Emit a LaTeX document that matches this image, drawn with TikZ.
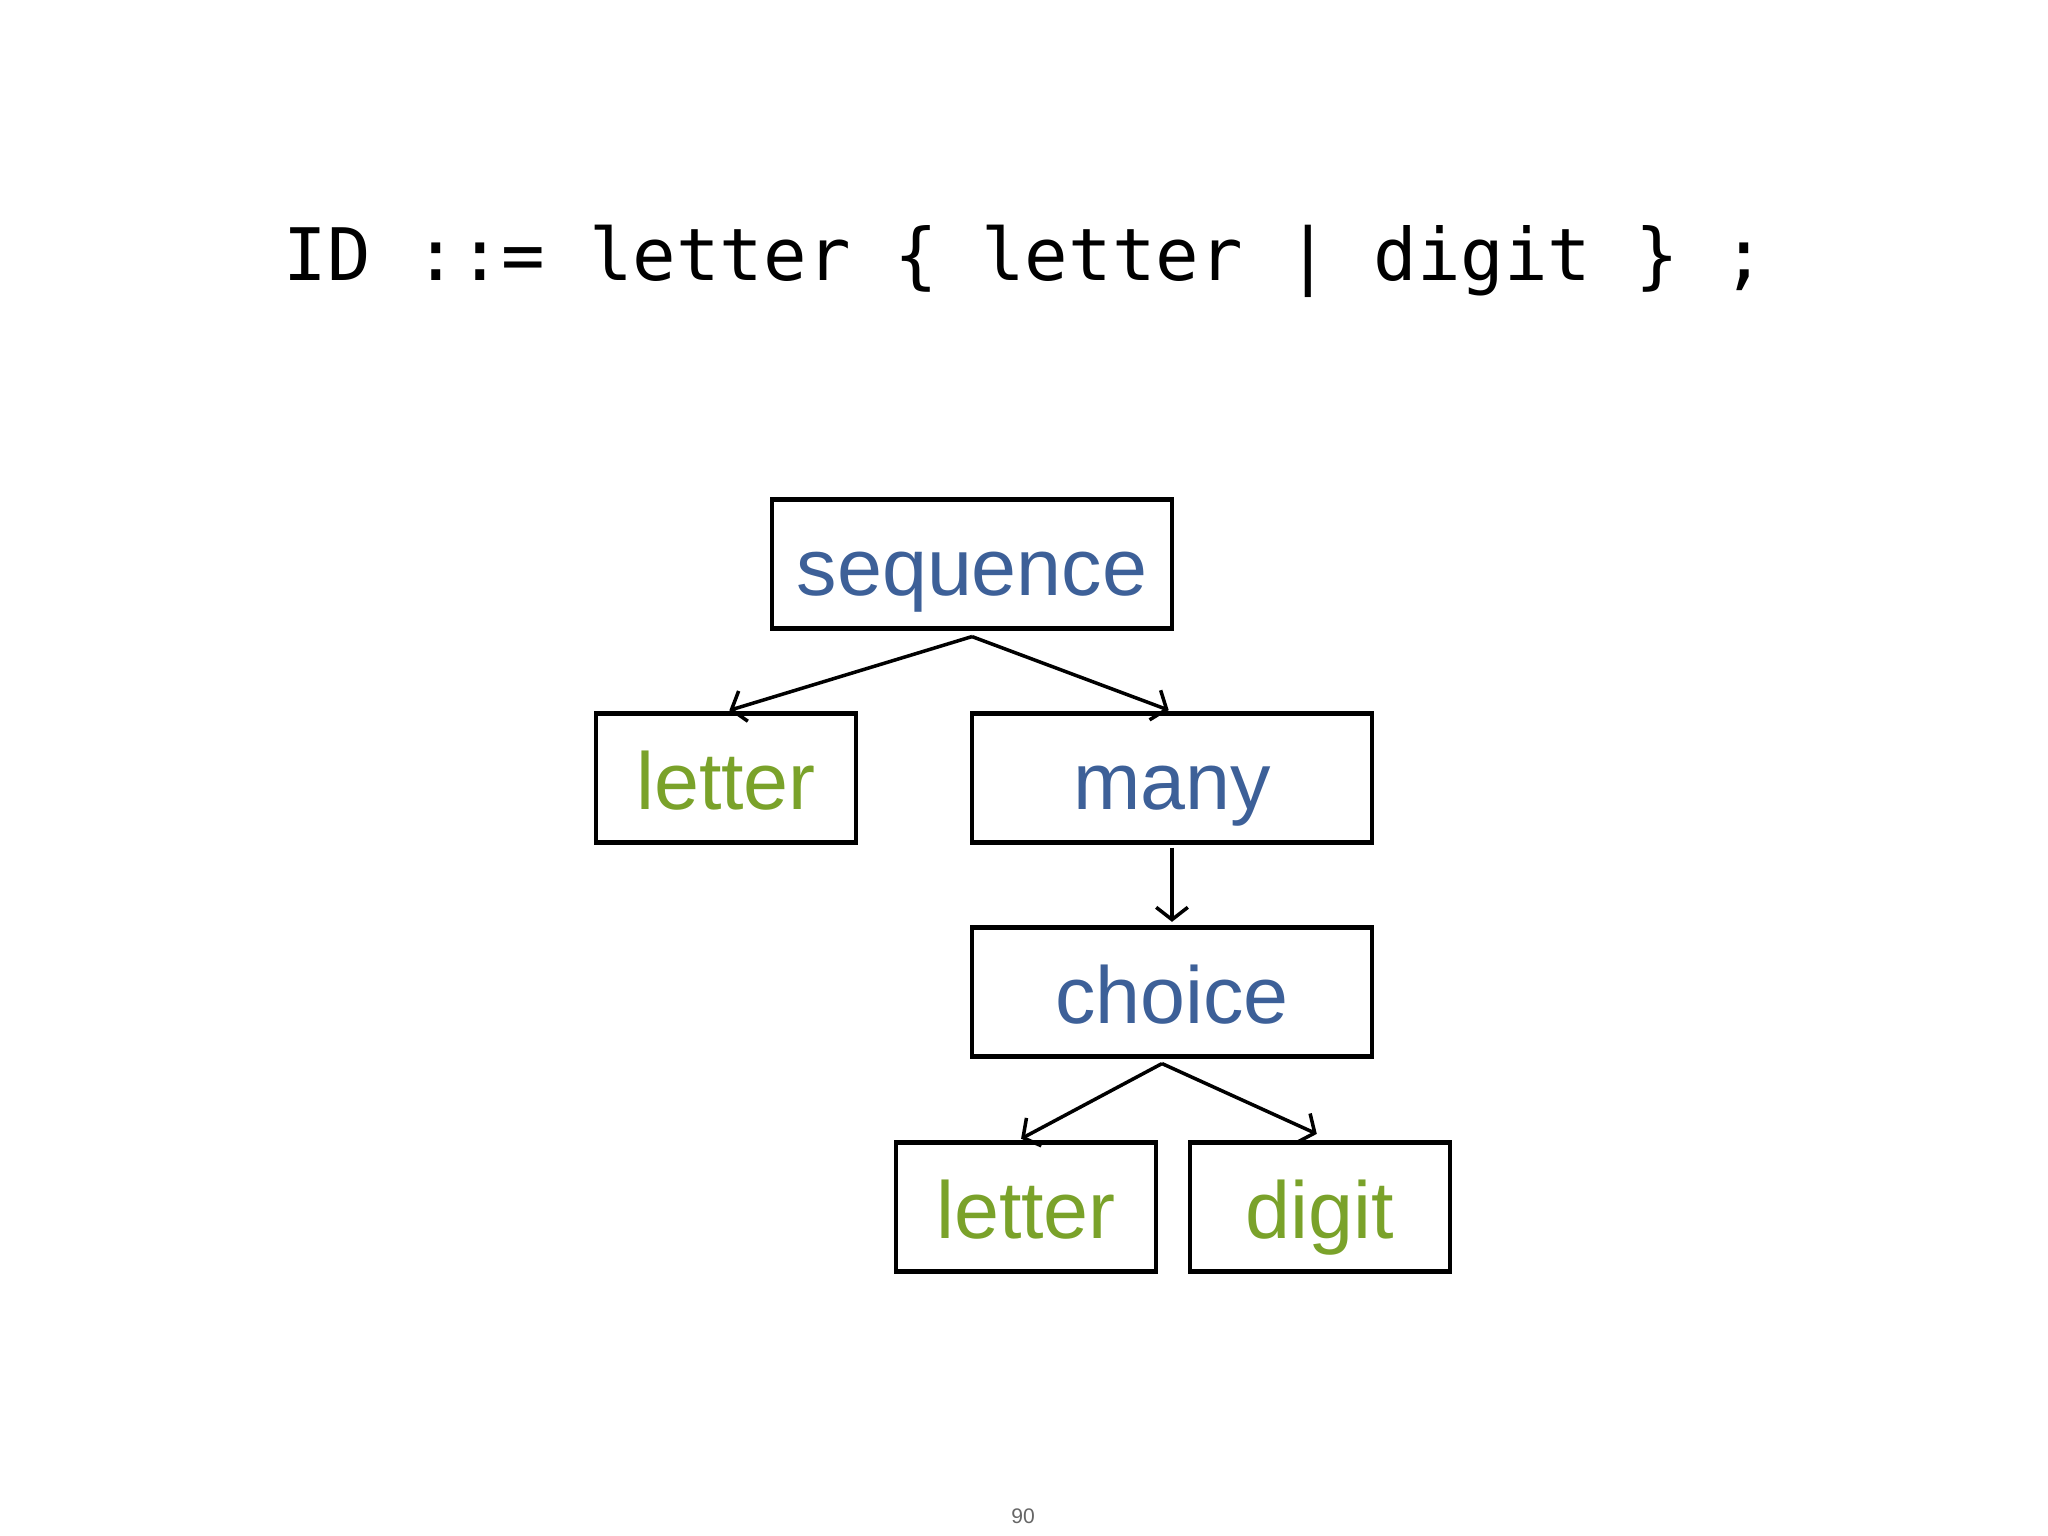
\documentclass[tikz,border=0pt]{standalone}
\usepackage{fontspec}
\setmainfont{Liberation Sans}
\newfontfamily\grammarfont{DejaVu Sans Mono}
\usetikzlibrary{arrows.meta}

\definecolor{combblue}{HTML}{3D6098}
\definecolor{termgreen}{HTML}{7AA22A}

\tikzset{
    parser/.style={draw, line width=1.2pt, inner sep=0pt, minimum height=1.29cm,
        text height=0.96cm, text depth=0.33cm,
        text=combblue, font=\fontsize{23}{23}\selectfont},
    wide/.style={parser, minimum width=4cm},
    narrow/.style={parser, minimum width=2.6cm, text=termgreen},
    edge/.style={line width=1pt, -{Straight Barb[length=3.5pt,width=9pt]}, shorten >=1pt},
}

\begin{document}
\begin{tikzpicture}
    \useasboundingbox (0,0) rectangle (20.48,15.36);

    % grammar rule
    \node[anchor=base, font=\grammarfont\fontsize{20.6}{20.6}\selectfont] (rule) at (10.25,12.55)
        {ID ::= letter \{ letter | digit \} ;};

    % parser tree
    \node[wide] (seq) at (9.72,9.72) {sequence};
    \node[narrow] (let) at (7.26,7.58) {letter};
    \node[wide] (many) at (11.72,7.58) {many};
    \node[wide] (choice) at (11.72,5.44) {choice};
    \node[narrow] (choicelet) at (10.26,3.29) {letter};
    \node[narrow] (dig) at (13.20,3.29) {digit};

    \coordinate (seqfork) at ([yshift=-0.06cm]seq.south);
    \coordinate (choicefork) at ([shift={(-0.1,-0.05)}]choice.south);

    \draw[edge] (seqfork) -- (let.north);
    \draw[edge] (seqfork) -- (many.north);
    \draw[edge] ([yshift=-0.03cm]many.south) -- (choice.north);
    \draw[edge] (choicefork) -- ([xshift=-0.08cm]choicelet.north);
    \draw[edge] (choicefork) -- ([yshift=0.05cm]dig.north);

    % page number
    \node[text=black!60, font=\fontsize{6}{6}\selectfont] (page) at (10.23,0.2) {90};
\end{tikzpicture}
\end{document}
